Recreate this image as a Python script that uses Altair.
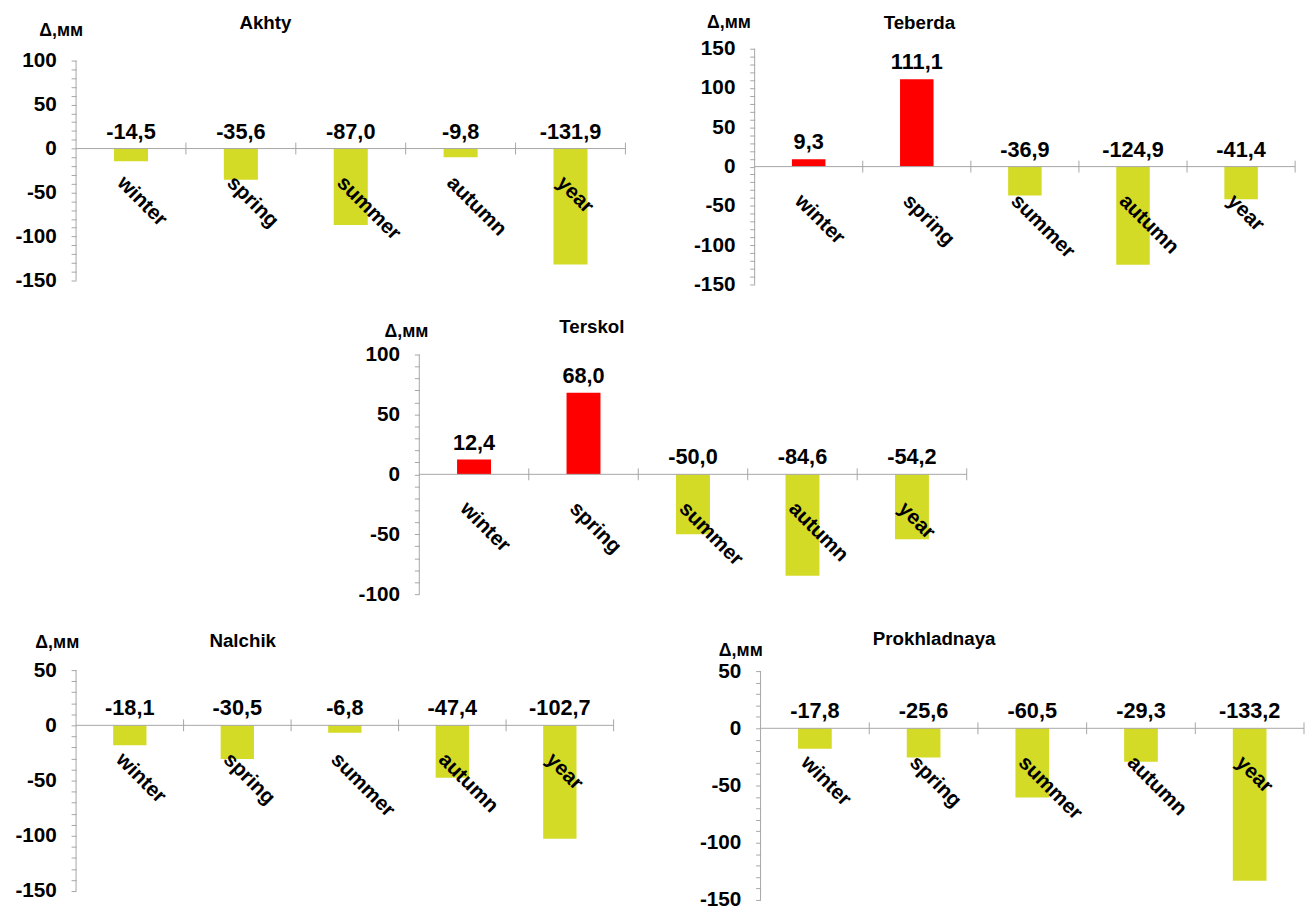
import math
import altair as alt
import pandas as pd

# ---------------- data ----------------
categories = ["winter", "spring", "summer", "autumn", "year"]
stations = ["Akhty", "Teberda", "Terskol", "Nalchik", "Prokhladnaya"]
akhty = [-14.5, -35.6, -87.0, -9.8, -131.9]
teberda = [9.3, 111.1, -36.9, -124.9, -41.4]
terskol = [12.4, 68.0, -50.0, -84.6, -54.2]
nalchik = [-18.1, -30.5, -6.8, -47.4, -102.7]
prokhladnaya = [-17.8, -25.6, -60.5, -29.3, -133.2]
tick_ranges = [(-150, 100), (-150, 150), (-100, 100), (-150, 50), (-150, 50)]
unit_label = "Δ,мм"

# ---------------- style / layout ----------------
FONT = "Liberation Sans"
GREY = "#a6a6a6"
NEG = "#d4db26"
POS = "#ff0000"
LAB_FS = 21
VAL_FS = 22
CAT_FS = 21
TITLE_FS = 19
UNIT_FS = 18
TICK = 5
LPAD = 15
ANGLE = 45

# per panel: plot width, px of top tick, px of bottom tick, row top, row bottom,
# title offset (x, y), unit-label offset (x, y) relative to plot origin,
# invisible top guide (extent above plot)
layout = {
    "Akhty":        dict(w=557, hi_px=60,  lo_px=283, top=48,  bot=287, title=(192, -26), unit=(-15, -18), guide=0),
    "Teberda":      dict(w=548, hi_px=48,  lo_px=287, top=48,  bot=287, title=(167, -26), unit=(-26, -26), guide=0),
    "Terskol":      dict(w=555, hi_px=355, lo_px=598, top=355, bot=598, title=(175, -28), unit=(-13, -23), guide=0),
    "Nalchik":      dict(w=545, hi_px=672, lo_px=896, top=672, bot=905, title=(169, -29), unit=(-19, -27), guide=43),
    "Prokhladnaya": dict(w=551, hi_px=673, lo_px=905, top=672, bot=905, title=(176, -31), unit=(-20, -19), guide=43),
}


def fmt(v):
    return f"{v:.1f}".replace(".", ",")


def spacer(w):
    return alt.Chart(pd.DataFrame({"a": [0]})).mark_rule(opacity=0).encode(
        x=alt.value(0), x2=alt.value(w), y=alt.value(0)).properties(width=w, height=1)


def panel(name, values, trange):
    lay = layout[name]
    lo, hi = trange
    ppu = (lay["lo_px"] - lay["hi_px"]) / (hi - lo)
    dom_hi = hi + (lay["hi_px"] - lay["top"]) / ppu
    dom_lo = lo - (lay["bot"] - lay["lo_px"]) / ppu
    height = lay["bot"] - lay["top"]

    df = pd.DataFrame({
        "cat": categories,
        "v": values,
        "lab": [fmt(v) for v in values],
        "sign": ["pos" if v > 0 else "neg" for v in values],
        "ly": [max(v, 0) for v in values],
    })
    base = alt.Chart(df)
    xscale = alt.Scale(paddingInner=0, paddingOuter=0)
    xenc = alt.X("cat:N", sort=categories, axis=None, scale=xscale)
    yscale = alt.Scale(domain=[dom_lo, dom_hi], nice=False, zero=False)

    yaxis = alt.Axis(
        title=None, values=list(range(lo, hi + 1, 10)),
        labelExpr="datum.value % 50 == 0 ? '' + datum.value : ''",
        domain=False, ticks=True, tickSize=TICK, tickColor=GREY, grid=False,
        labelPadding=LPAD, labelFontSize=LAB_FS, labelFontWeight="bold",
        labelColor="black", labelFont=FONT, labelOverlap=False, labelFlush=False,
    )

    one = alt.Chart(pd.DataFrame({"t": [name], "u": [unit_label]}))

    axis_line = one.mark_rule(color=GREY, strokeWidth=1).encode(
        x=alt.value(0),
        y=alt.YDatum(lo, scale=yscale, axis=yaxis),
        y2=alt.Y2Datum(hi),
    )
    zero_line = one.mark_rule(color=GREY, strokeWidth=1).encode(
        y=alt.YDatum(0, scale=yscale, axis=yaxis))
    cat_ticks = base.mark_rule(color=GREY, strokeWidth=1, yOffset=-6, y2Offset=6).encode(
        x=alt.X("cat:N", sort=categories, axis=None, bandPosition=1, scale=xscale),
        y=alt.YDatum(0, scale=yscale, axis=yaxis),
        y2=alt.Y2Datum(0),
    )
    bars = base.mark_bar(width=alt.RelativeBandSize(0.31)).encode(
        x=xenc,
        y=alt.Y("v:Q", scale=yscale, axis=yaxis),
        color=alt.Color("sign:N", scale=alt.Scale(domain=["pos", "neg"], range=[POS, NEG]),
                        legend=None),
    )
    vlabels = base.mark_text(baseline="bottom", dy=-5, fontSize=VAL_FS, fontWeight="bold",
                             font=FONT, color="black").encode(
        x=xenc, y=alt.Y("ly:Q", scale=yscale, axis=yaxis), text="lab:N")

    D, H = 24, -3
    th = math.radians(ANGLE)
    cdx = H * math.cos(th) + D * math.sin(th)
    cdy = -H * math.sin(th) + D * math.cos(th)
    clabels = base.mark_text(angle=ANGLE, align="left", baseline="top", dx=cdx, dy=cdy,
                             fontSize=CAT_FS, fontWeight="bold", font=FONT, color="black").encode(
        x=xenc, y=alt.YDatum(0, scale=yscale, axis=yaxis), text="cat:N")

    title = one.mark_text(fontSize=TITLE_FS, fontWeight="bold", font=FONT, color="black",
                          align="center", baseline="middle").encode(
        x=alt.value(lay["title"][0]), y=alt.value(lay["title"][1]), text="t:N")
    unit = one.mark_text(fontSize=UNIT_FS, fontWeight="bold", font=FONT, color="black",
                         align="center", baseline="middle").encode(
        x=alt.value(lay["unit"][0]), y=alt.value(lay["unit"][1]), text="u:N")

    layers = [bars, zero_line, cat_ticks, axis_line, vlabels, clabels, title, unit]
    if lay["guide"]:
        guide = one.mark_rule(opacity=0).encode(
            x=alt.value(0), x2=alt.value(1), y=alt.value(-lay["guide"]))
        layers.append(guide)

    return alt.layer(*layers).properties(width=lay["w"], height=height)


series = [akhty, teberda, terskol, nalchik, prokhladnaya]
p = [panel(n, s, r) for n, s, r in zip(stations, series, tick_ranges)]

row1 = alt.hconcat(p[0], p[1], spacing=67)
row2 = alt.hconcat(spacer(285), p[2], spacing=0)
row3 = alt.hconcat(p[3], p[4], spacing=85)
chart = alt.vconcat(row1, row2, row3, spacing=24).properties(
    padding={"left": 6, "top": 0, "right": 0, "bottom": 0}
).configure_view(stroke=None)

chart.save("out.html", embed_options={"renderer": "svg", "actions": False})
